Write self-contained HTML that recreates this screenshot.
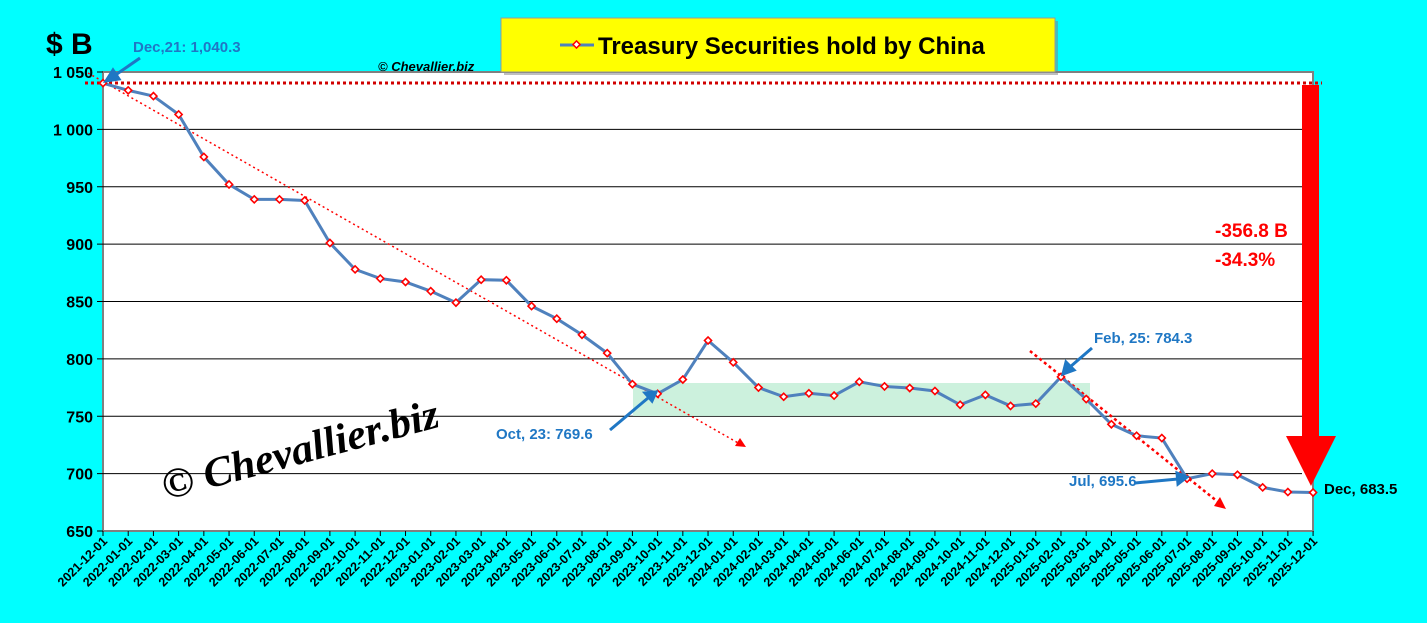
<!DOCTYPE html>
<html><head><meta charset="utf-8"><style>
html,body{margin:0;padding:0;background:#00ffff;}
svg{display:block;font-family:"Liberation Sans",sans-serif;}
</style></head><body>
<svg id="s" width="1427" height="623" viewBox="0 0 1427 623" xmlns="http://www.w3.org/2000/svg">
<rect x="0" y="0" width="1427" height="623" fill="#00ffff"/>
<rect x="103" y="72" width="1210" height="459" fill="#fff" stroke="#808080" stroke-width="2"/>
<g id="grid" stroke="#000" stroke-width="1"></g>
<rect x="633" y="383" width="457" height="33" fill="#c6efd9" opacity="0.9"/>
<g id="ticks" stroke="#000" stroke-width="1"></g>
<g id="ylab" font-size="16" font-weight="bold" text-anchor="end" fill="#000"></g>
<g id="xlab" font-size="12.5" font-weight="bold" fill="#000"></g>
<text x="46" y="54" font-size="30" font-weight="bold">$ B</text>
<text x="378" y="71" font-size="13" font-weight="bold" font-style="italic">© Chevallier.biz</text>
<text transform="translate(166,500) rotate(-15)" font-family="Liberation Serif,serif" font-style="italic" font-weight="bold" font-size="42" fill="#000" textLength="285" lengthAdjust="spacingAndGlyphs">© Chevallier.biz</text>
<line x1="85" y1="83" x2="1322" y2="83" stroke="#d00000" stroke-width="3" stroke-dasharray="3,3"/>
<line x1="88" y1="73" x2="740" y2="444" stroke="#ff0000" stroke-width="1.5" stroke-dasharray="2,3"/>
<polygon points="746,447 735,446 740,438" fill="#ff0000"/>
<line x1="1030" y1="351" x2="1218" y2="502" stroke="#ff0000" stroke-width="2.5" stroke-dasharray="3,3"/>
<polygon points="1226,509 1214,506 1220,497" fill="#ff0000"/>
<polyline id="ser" fill="none" stroke="#4f81bd" stroke-width="3"/>
<g id="mk" fill="#fff" stroke="#ff0000" stroke-width="1.6"></g>
<rect x="1302" y="85" width="17" height="352" fill="#ff0000"/>
<polygon points="1286,436 1336,436 1311,486" fill="#ff0000"/>
<g fill="#1f77c4" font-size="15" font-weight="bold">
<text x="133" y="52">Dec,21: 1,040.3</text>
<text x="496" y="439">Oct, 23: 769.6</text>
<text x="1094" y="343">Feb, 25: 784.3</text>
<text x="1069" y="486">Jul, 695.6</text>
</g>
<g stroke="#1f77c4" stroke-width="3" fill="#1f77c4">
<line x1="140" y1="58" x2="114" y2="76"/><polygon points="106,81 113,70 119,79"/>
<line x1="610" y1="430" x2="648" y2="398"/><polygon points="656,392 645,393 652,401"/>
<line x1="1092" y1="348" x2="1070" y2="367"/><polygon points="1063,374 1066,362 1074,370"/>
<line x1="1135" y1="483" x2="1178" y2="479"/><polygon points="1187,477 1177,473 1178,484"/>
</g>
<text x="1324" y="494" font-size="15" font-weight="bold" fill="#000">Dec, 683.5</text>
<text x="1215" y="237" font-size="19" font-weight="bold" fill="#ff0000">-356.8 B</text>
<text x="1215" y="266" font-size="19" font-weight="bold" fill="#ff0000">-34.3%</text>
<rect x="504" y="21" width="554" height="54" fill="#808080" opacity="0.5"/>
<rect x="501" y="18" width="554" height="54" fill="#ffff00" stroke="#999" stroke-width="1"/>
<line x1="560" y1="45" x2="594" y2="45" stroke="#4f81bd" stroke-width="3"/>
<rect x="574" y="42" width="5" height="5" transform="rotate(45 576.5 44.5)" fill="#fff" stroke="#f00" stroke-width="1.5"/>
<text x="598" y="54" font-size="24" font-weight="bold">Treasury Securities hold by China</text>
</svg>
<script>
var v=[1040.3,1034,1029,1013,976,952,939,939,938,901,878,870,867,859,849,869,868.5,846,835,821,805,778,769.6,782,816,797,775,767,770,768,780,776,774.6,772,760,768.6,759,761,784.3,765,743,733,731,695.6,700,699,688,684,683.5];
var NS="http://www.w3.org/2000/svg";
function el(t,a,p,txt){var e=document.createElementNS(NS,t);for(var k in a)e.setAttribute(k,a[k]);if(txt)e.textContent=txt;document.getElementById(p).appendChild(e);return e;}
function Y(x){return 72+(1050-x)*1.1475;}
function X(i){return 103+i*25.21;}
for(var g=700;g<=1000;g+=50){el('line',{x1:103,x2:1302,y1:Y(g),y2:Y(g)},'grid');}
for(var g=650;g<=1050;g+=50){el('line',{x1:97,x2:103,y1:Y(g),y2:Y(g)},'ticks');el('text',{x:93,y:Y(g)+6},'ylab',g>=1000?('1 '+String(g-1000).padStart(3,'0')):String(g));}
var pts=[];
for(var i=0;i<v.length;i++){var x=X(i),y=Y(v[i]);pts.push(x+','+y);
el('rect',{x:x-2.5,y:y-2.5,width:5,height:5,transform:'rotate(45 '+x+' '+y+')'},'mk');
el('line',{x1:x,x2:x,y1:531,y2:536},'ticks');
var yy=2021+Math.floor((11+i)/12),mm=((11+i)%12)+1;
el('text',{transform:'translate('+(x+5)+',542) rotate(-45)','text-anchor':'end'},'xlab',yy+'-'+(mm<10?'0':'')+mm+'-01');}
document.getElementById('ser').setAttribute('points',pts.join(' '));
</script>
</body></html>
